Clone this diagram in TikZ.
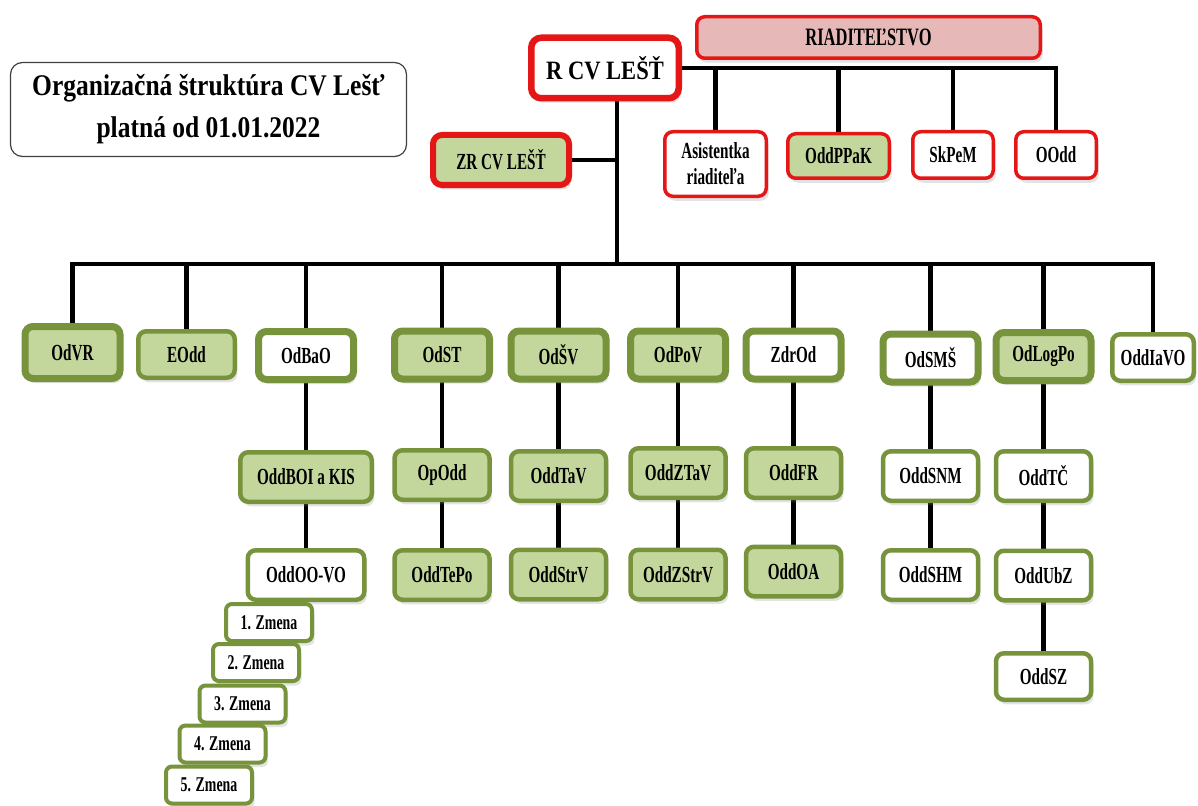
\documentclass[tikz,border=0pt]{standalone}
\usepackage{fontspec}
\newfontfamily\boxfont{Liberation Serif}[FakeStretch=0.66]
\newfontfamily\titlefont{Liberation Serif}[FakeStretch=0.85]
\usetikzlibrary{positioning,shadows,backgrounds,calc}

\definecolor{olivefill}{RGB}{195,214,155}
\definecolor{olivedark}{RGB}{119,147,60}
\definecolor{redline}{RGB}{228,22,22}
\definecolor{pinkfill}{RGB}{230,185,184}

\tikzset{
  unit/.style={rounded corners=8pt, align=center, inner sep=0pt,
    font=\boxfont\bfseries\fontsize{23}{26}\selectfont,
    drop shadow={opacity=0.22, shadow xshift=2.5pt, shadow yshift=-4.5pt}},
  grnbig/.style={unit, fill=olivefill, draw=olivedark, line width=7pt,
    minimum width=95pt, minimum height=48pt},
  whtbig/.style={grnbig, fill=white},
  grnsub/.style={unit, fill=olivefill, draw=olivedark, line width=4.5pt,
    minimum width=95pt, minimum height=49.5pt},
  whtsub/.style={grnsub, fill=white},
  redsub/.style={unit, fill=white, draw=redline, line width=3.5pt,
    minimum width=80.5pt, minimum height=46.5pt},
  shiftbox/.style={unit, fill=white, draw=olivedark, line width=4pt,
    minimum width=86pt, minimum height=37pt, rounded corners=6pt,
    font=\boxfont\bfseries\fontsize{21}{23}\selectfont},
  link/.style={line width=4.5pt, black, line cap=rect},
}

\begin{document}
\begin{tikzpicture}[x=1pt,y=-1pt]
    \path[use as bounding box] (0,0) rectangle (1198,805);

    % === Nadpis ===
    \node[draw=black!75, line width=1.2pt, rounded corners=12pt, fill=white,
          minimum width=396pt, minimum height=94pt, align=center,
          font=\titlefont\bfseries\fontsize{30}{42}\selectfont]
          (title) at (208.5,109.5) {Organizačná štruktúra CV Lešť\\platná od 01.01.2022};

    % === Vedenie ===
    \node[unit, fill=pinkfill, draw=redline, line width=3.5pt, minimum width=343.5pt,
          minimum height=41.5pt, font=\boxfont\bfseries\fontsize{25}{27}\selectfont]
          (riad) at (868.5,37.5) {RIADITEĽSTVO};
    \node[unit, fill=white, draw=redline, line width=6.5pt, rounded corners=10pt,
          minimum width=147.5pt, minimum height=60.5pt,
          font=\titlefont\bfseries\fontsize{26.5}{28}\selectfont]
          (rcv) at (605,68) {R CV LEŠŤ};
    \node[unit, fill=olivefill, draw=redline, line width=6pt, rounded corners=9pt,
          minimum width=136pt, minimum height=50pt] (zrcv) at (501,160) {ZR CV LEŠŤ};

    \node[redsub, minimum width=101.5pt, minimum height=64.5pt] (asist) at (715.5,164) {Asistentka\\riaditeľa};
    \node[redsub, fill=olivefill, minimum width=101.5pt, minimum height=44.5pt] (oddppak) at (838.5,156) {OddPPaK};
    \node[redsub] (skpem) at (953,155) {SkPeM};
    \node[redsub] (oodd) at (1056,155) {OOdd};

    % === Odbory ===
    \node[grnbig, minimum height=52pt] (odvr) at (72.5,352.5) {OdVR};
    \node[grnsub, minimum width=96.5pt, minimum height=46.5pt] (eodd) at (186.5,354.5) {EOdd};
    \node[whtbig] (odbao) at (306,355.5) {OdBaO};
    \node[grnbig] (odst) at (442,355) {OdST};
    \node[grnbig] (odsv) at (558.5,355) {OdŠV};
    \node[grnbig] (odpov) at (678,355) {OdPoV};
    \node[whtbig] (zdrod) at (793.5,355) {ZdrOd};
    \node[whtbig] (odsms) at (930.5,358) {OdSMŠ};
    \node[grnbig] (odlogpo) at (1043.5,356.5) {OdLogPo};
    \node[whtsub, minimum width=81.5pt, minimum height=46.5pt] (oddiavo) at (1153,357.5) {OddIaVO};

    % === Oddelenia ===
    \node[grnsub, minimum width=131.5pt] (oddboi) at (306,477) {OddBOI a KIS};
    \node[grnsub] (opodd) at (442,475) {OpOdd};
    \node[grnsub] (oddtav) at (558.5,476) {OddTaV};
    \node[grnsub] (oddztav) at (678,473) {OddZTaV};
    \node[grnsub] (oddfr) at (793.5,473) {OddFR};
    \node[whtsub] (oddsnm) at (930.5,476) {OddSNM};
    \node[whtsub] (oddtc) at (1043.5,476) {OddTČ};

    \node[whtsub, minimum width=116.5pt] (oddoovo) at (306,575) {OddOO-VO};
    \node[grnsub] (oddtepo) at (442,575) {OddTePo};
    \node[grnsub] (oddstrv) at (558.5,574.5) {OddStrV};
    \node[grnsub] (oddzstrv) at (678,574.5) {OddZStrV};
    \node[grnsub] (oddoa) at (793.5,571.5) {OddOA};
    \node[whtsub] (oddshm) at (930.5,575) {OddSHM};
    \node[whtsub] (oddubz) at (1043.5,575.5) {OddUbZ};
    \node[whtsub, minimum height=46.5pt] (oddsz) at (1043.5,676.5) {OddSZ};

    % Zmeny
    \foreach \i/\x/\y in {1/269/622.5, 2/256/662.5, 3/242.5/704, 4/222.5/744, 5/209/785}
        \node[shiftbox] (zm\i) at (\x,\y) {\i. Zmena};

    % === Spojnice ===
    \begin{scope}[on background layer]
        \fill[white] (0,0) rectangle (1198,805);
        \draw[link] (rcv.east) -| (oodd.north);
        \foreach \n in {asist,oddppak,skpem}
            \draw[link] (\n.north) -- (\n.north |- rcv.east);
        \coordinate (bus) at (617,264);
        \draw[link] (bus |- rcv.south) -- (bus);
        \draw[link] (zrcv.east) -- (zrcv.east -| bus);
        \draw[link] (odvr.north |- bus) -- (oddiavo.north |- bus);
        \foreach \n in {odvr,eodd,odbao,odst,odsv,odpov,zdrod,odsms,odlogpo,oddiavo}
            \draw[link] (\n.north) -- (\n.north |- bus);
        \foreach \a/\b in {odbao/oddboi, oddboi/oddoovo, odst/opodd, opodd/oddtepo,
                           odsv/oddtav, oddtav/oddstrv, odpov/oddztav, oddztav/oddzstrv,
                           zdrod/oddfr, oddfr/oddoa, odsms/oddsnm, oddsnm/oddshm,
                           odlogpo/oddtc, oddtc/oddubz, oddubz/oddsz}
            \draw[link] (\a.south) -- (\b.north);
    \end{scope}
\end{tikzpicture}
\end{document}
